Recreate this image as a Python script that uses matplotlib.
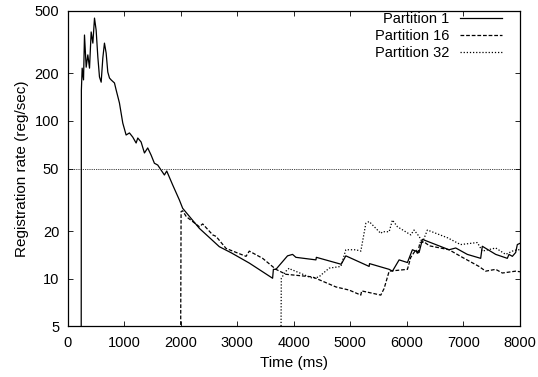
import matplotlib
matplotlib.use('Agg')
import matplotlib.pyplot as plt

plt.rcParams['font.family'] = ['Liberation Sans', 'DejaVu Sans']

# Partition 1 (solid)
t1 = [242, 245, 259, 283, 300, 330, 359, 389, 418, 448, 477, 506, 536, 565,
      595, 624, 653, 683, 712, 742, 771, 830, 860, 918, 977, 1036, 1095, 1154,
      1213, 1242, 1301, 1360, 1418, 1478, 1536, 1595, 1654, 1713, 1754, 1860,
      1978, 2036, 2150, 2331, 2500, 2684, 2900, 3214, 3626, 3640, 3685, 3890,
      3979, 4038, 4392, 4400, 4833, 4840, 4921, 5333, 5340, 5687, 5745, 5863,
      6010, 6098, 6216, 6275, 6511, 6746, 6864, 7069, 7305, 7334, 7571, 7776,
      7806, 7865, 7924, 7953, 8000]
v1 = [4, 157, 216, 182, 350, 219, 262, 216, 366, 311, 448, 376, 254, 190,
      176, 250, 311, 269, 204, 187, 182, 174, 157, 130, 97, 81.5, 84, 79,
      72.5, 78, 73.6, 62.7, 67.5, 60.8, 54, 52.6, 48.9, 45.5, 48.2, 39.3,
      31.6, 28, 25, 20.9, 18.4, 16, 14.6, 12.6, 10.1, 11.5, 11.5, 14.0,
      14.3, 13.7, 13.2, 13.7, 12.4, 12.4, 14.0, 12.0, 12.5, 11.5, 11.2, 13.2,
      12.7, 15.3, 14.7, 17.8, 16.5, 15.3, 15.7, 14.3, 13.5, 16.1, 14.3, 13.5,
      14.3, 13.9, 14.7, 16.5, 16.8]

# Partition 16 (dashed)
t16 = [2000, 2008, 2036, 2100, 2331, 2390, 2567, 2626, 2803, 3156, 3214,
       3450, 3685, 3862, 4332, 4745, 4980, 5186, 5200, 5539, 5598, 5687,
       6010, 6069, 6160, 6190, 6230, 6300, 6400, 6746, 6981, 7275, 7393,
       7571, 7688, 7924, 8000]
v16 = [4, 26.7, 27, 24.8, 21.4, 22.3, 19, 18.6, 15.6, 13.9, 15.0,
       13.5, 11.5, 10.7, 10.3, 8.9, 8.5, 7.9, 8.4, 7.9, 8.7, 11.2,
       11.5, 13.7, 15.3, 14.3, 17.0, 17.2, 16.2, 15.3, 13.7, 12.0, 11.2,
       11.5, 10.9, 11.2, 11.1]

# Partition 32 (dotted)
t32 = [3774, 3780, 3862, 3920, 3950, 4332, 4451, 4470, 4627, 4833, 4921,
       5098, 5186, 5275, 5333, 5540, 5569, 5687, 5745, 5833, 6069, 6127,
       6216, 6275, 6363, 6722, 6950, 7246, 7334, 7571, 7747, 7865, 7953, 8000]
v32 = [4, 10.1, 11.2, 11.7, 11.5, 10.1, 10.3, 10.5, 11.7, 12.0, 15.3,
       15.3, 15.0, 22.5, 23.1, 19.4, 19.9, 19.9, 23.6, 21.4, 19.0, 20.4,
       18.6, 17.0, 20.4, 18.2, 16.5, 17.0, 15.0, 15.7, 14.3, 15.0, 15.3, 15.3]

threshold = 50
yticks = [5, 10, 20, 50, 100, 200, 500]
xticks = [0, 1000, 2000, 3000, 4000, 5000, 6000, 7000, 8000]

fig = plt.figure(figsize=(5.38, 3.77), dpi=100)
ax = fig.add_axes([0.1255, 0.134, 0.841, 0.838])

ax.plot(t1, v1, color='black', lw=0.9, label='Partition 1')
ax.plot(t16, v16, color='black', lw=0.9, dashes=(3, 1.5), label='Partition 16')
ax.plot(t32, v32, color='black', lw=0.9, dashes=(1, 1.5), label='Partition 32')
ax.axhline(threshold, color='black', lw=0.6, dashes=(1, 1.2))

ax.set_yscale('log')
ax.set_ylim(5, 500)
ax.set_xlim(0, 8000)
ax.set_yticks(yticks)
ax.set_yticklabels([str(v) for v in yticks])
ax.minorticks_off()
ax.set_xticks(xticks)
ax.tick_params(direction='in', top=True, right=True, labelsize=10.5, length=3.5, width=0.6)
ax.tick_params(axis='x', pad=7)
ax.tick_params(axis='y', pad=6)
for s in ax.spines.values():
    s.set_linewidth(0.9)

ax.set_xlabel('Time (ms)', fontsize=11)
ax.set_ylabel('Registration rate (reg/sec)', fontsize=11)

ax.legend(loc='upper right', bbox_to_anchor=(0.967, 1.005), frameon=False,
          markerfirst=False, fontsize=10.5, handlelength=2.9, labelspacing=0.21,
          borderaxespad=0, borderpad=0.2, handletextpad=0.7)

fig.savefig('out.png', dpi=100)
